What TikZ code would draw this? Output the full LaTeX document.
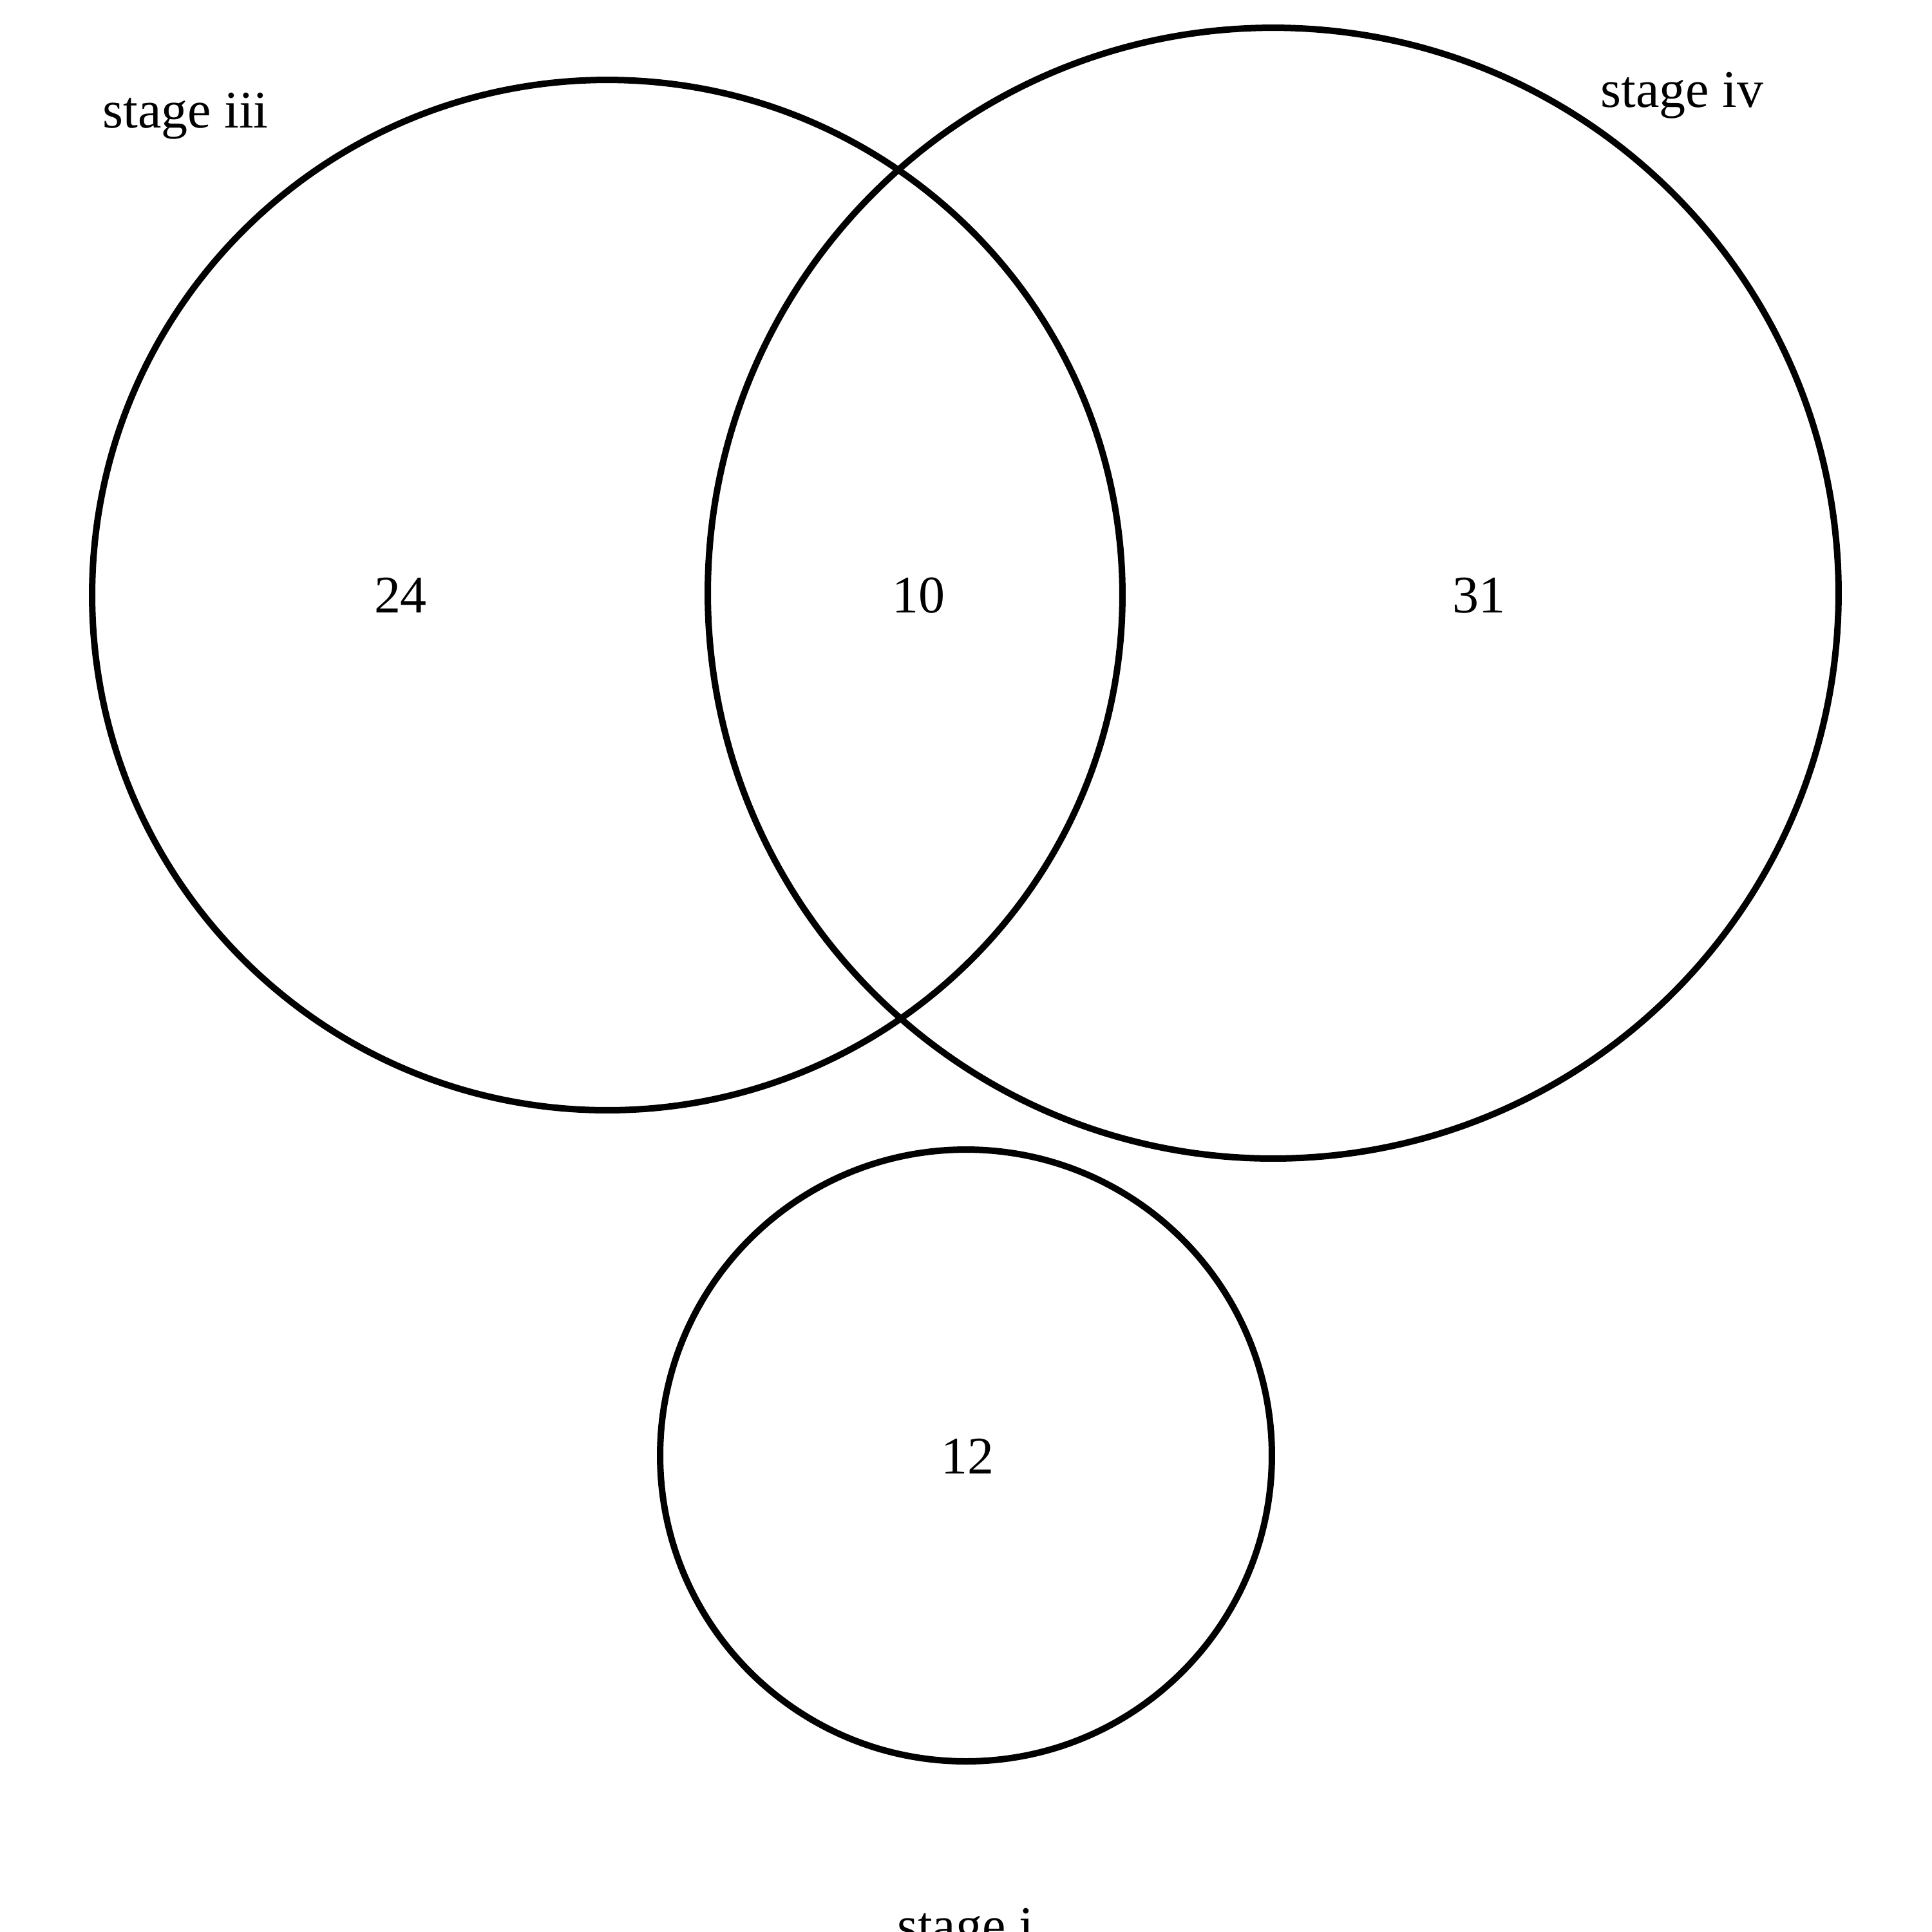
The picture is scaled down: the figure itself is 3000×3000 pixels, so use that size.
\documentclass[tikz,border=0pt]{standalone}
\usepackage{fontspec}
\setmainfont{Liberation Serif}
\begin{document}
\begin{tikzpicture}[x=0.1pt,y=-0.1pt,
  setcircle/.style={draw=black,line width=1pt},
  lbl/.style={inner sep=0pt,anchor=base,font=\fontsize{8.2pt}{9pt}\selectfont}]
\useasboundingbox (0,0) rectangle (3000,3000);
\fill[white] (0,0) rectangle (3000,3000);
\coordinate (c3) at (943,924);
\coordinate (c4) at (1977,921);
\coordinate (c1) at (1500,2260);
\draw[setcircle] (c3) circle[radius=80pt];
\draw[setcircle] (c4) circle[radius=87.8pt];
\draw[setcircle] (c1) circle[radius=47.5pt];
\node[lbl] (l3) at (288,198) {stage iii};
\node[lbl] (l4) at (2612,166) {stage iv};
\node[lbl] (l1) at (1499,3017) {stage i};
\node[lbl] (n24) at (622,951) {24};
\node[lbl] (n10) at (1426,951) {10};
\node[lbl] (n31) at (2296,951) {31};
\node[lbl] (n12) at (1502,2288) {12};
\end{tikzpicture}
\end{document}
